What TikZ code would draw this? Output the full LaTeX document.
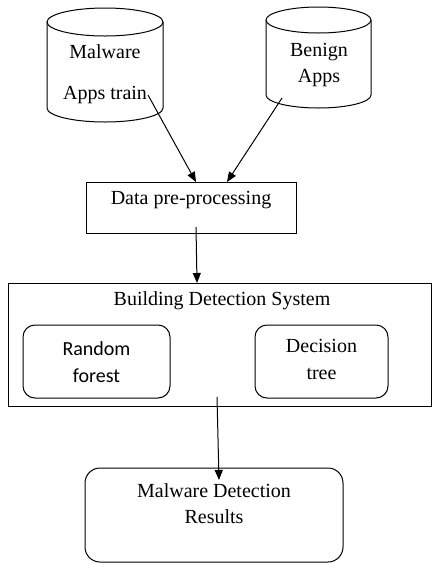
\documentclass[tikz,border=0pt]{standalone}
\usepackage{fontspec}
\setmainfont{Liberation Serif}
\newfontfamily\calfont{Carlito}
\usetikzlibrary{arrows.meta}
\begin{document}
\begin{tikzpicture}[x=1pt,y=-1pt,line width=1pt,
  txt/.style={font=\fontsize{20}{26}\selectfont,align=center,inner sep=0pt},
  ctxt/.style={font=\calfont\fontsize{20}{27}\selectfont,align=center,inner sep=0pt},
  arr/.style={-{Triangle[length=10pt,width=8pt]}},
  sqbox/.style={draw,inner sep=0pt},
  rbox/.style={draw,rounded corners=12pt,inner sep=0pt}]
\useasboundingbox (0,0) rectangle (432,563);
% cylinders
\draw (105,22) ellipse [x radius=58,y radius=14];
\draw (47,22) -- (47,108) arc[start angle=180,end angle=0,x radius=58,y radius=14] -- (163,22);
\draw (318.5,20) ellipse [x radius=52.5,y radius=13];
\draw (266,20) -- (266,95) arc[start angle=180,end angle=0,x radius=52.5,y radius=13] -- (371,20);
\node[txt] (mal1) at (105,52) {Malware};
\node[txt] (mal2) at (105,95) {Apps train};
\node[txt] (ben) at (319,65) {Benign\\Apps};
% pre-processing
\node[sqbox,minimum width=210pt,minimum height=51pt] (pre) at (191,207.5) {};
\node[txt] (pretxt) at (191,200) {Data pre-processing};
\coordinate (s1) at (148,95);
\coordinate (s2) at (282,98);
\coordinate (t1) at (196,182);
\coordinate (t2) at (227,182);
\draw[arr] (s1) -- (t1);
\draw[arr] (s2) -- (t2);
% building detection system
\node[sqbox,minimum width=423pt,minimum height=123pt] (bds) at (219.5,344.5) {};
\node[txt] (bdstxt) at (222,301) {Building Detection System};
\node[rbox,minimum width=147pt,minimum height=73pt] (rf) at (96.5,361.5) {};
\node[ctxt] (rftxt) at (96.5,362.5) {Random\\forest};
\node[rbox,minimum width=133pt,minimum height=73pt] (dt) at (321.5,361.5) {};
\node[txt,font=\fontsize{20}{27}\selectfont] (dttxt) at (321.5,359.5) {Decision\\tree};
\coordinate (s3) at (196,227);
\coordinate (t3) at (197,283);
\draw[arr] (s3) -- (t3);
% results
\node[rbox,rounded corners=15pt,minimum width=258pt,minimum height=94pt] (res) at (214,515) {};
\node[txt] (restxt) at (214,504) {Malware Detection\\Results};
\coordinate (s4) at (217,397);
\coordinate (t4) at (219,480);
\draw[arr] (s4) -- (t4);
\end{tikzpicture}
\end{document}
